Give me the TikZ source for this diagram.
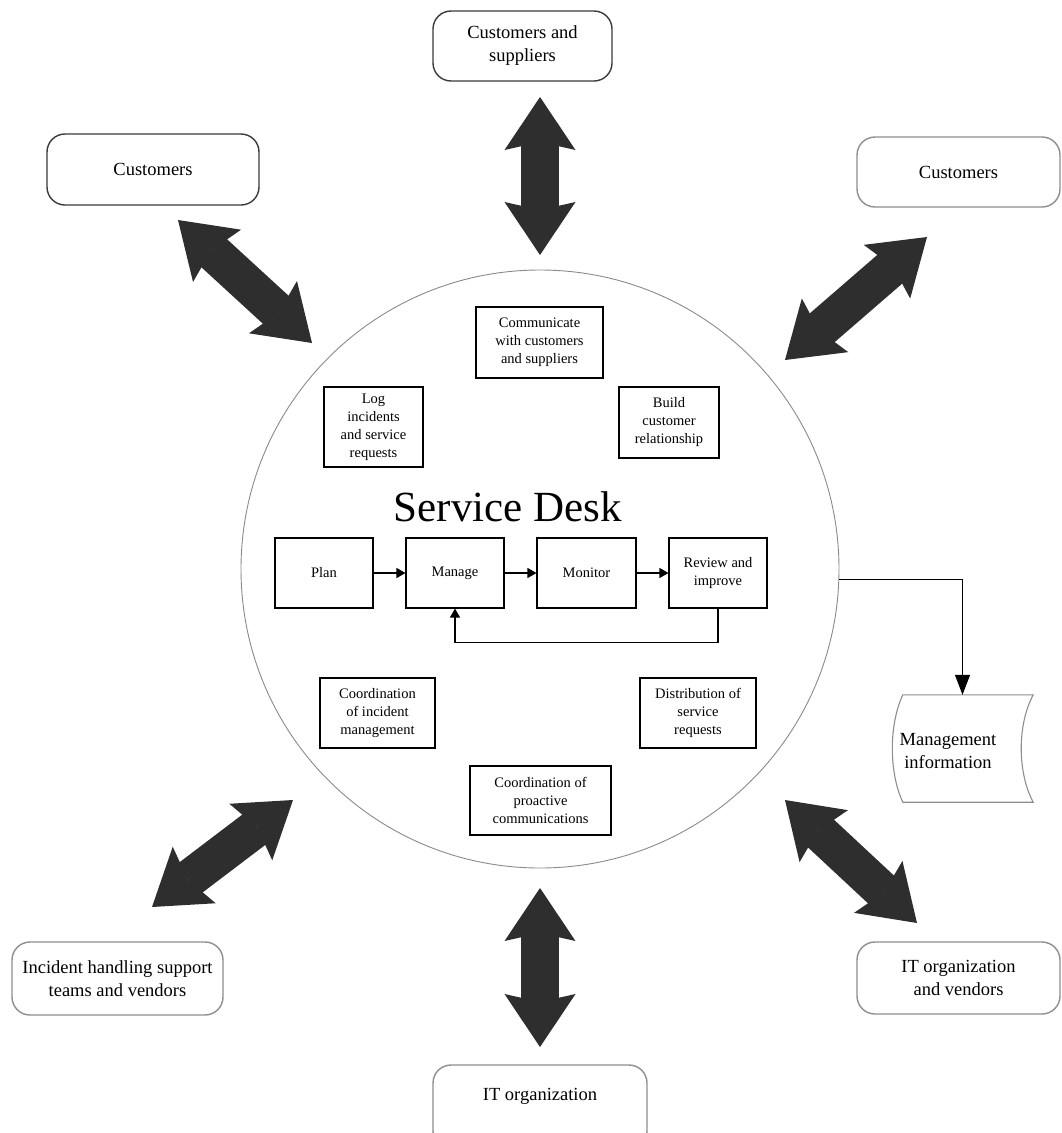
\documentclass[tikz,border=0pt]{standalone}
\usepackage{fontspec}
\setmainfont{Liberation Serif}
\usetikzlibrary{arrows.meta,calc}
\definecolor{arrowfill}{HTML}{2E2E2E}
\definecolor{ringgray}{HTML}{8A8A8A}
\definecolor{darkedge}{HTML}{3A3A3A}
\definecolor{lightedge}{HTML}{8E8E8E}

\begin{document}
\begin{tikzpicture}[x=1pt,y=-1pt,
  party/.style={draw=#1, line width=1.4pt, rounded corners=18pt, align=center,
    font=\fontsize{18.5}{23}\selectfont, inner sep=0pt},
  task/.style={draw=black, line width=1.1pt, align=center,
    font=\fontsize{14.5}{18}\selectfont, inner sep=0pt},
  flow/.style={draw=black, line width=1.2pt, -{Triangle[length=9pt,width=10pt]}},
  bigflow/.style={draw=arrowfill, line width=38pt,
    {Stealth[length=53pt,width=71pt,inset=8pt,line width=0pt,fill=arrowfill]}-{Stealth[length=53pt,width=71pt,inset=8pt,line width=0pt,fill=arrowfill]}},
  tape/.style={draw=lightedge, line width=1.1pt}]

\useasboundingbox (0,0) rectangle (1061,1133);
\clip (0,0) rectangle (1061,1133);

% the service desk ring
\node[circle, draw=ringgray, line width=0.9pt, minimum size=598pt, inner sep=0pt] (desk) at (540,569) {};

% outer parties
\node[party=darkedge, minimum width=179pt, minimum height=70pt] (cs) at (522.5,46) {Customers and\\suppliers};
\node[party=darkedge, minimum width=212pt, minimum height=71pt] (cl) at (153,169.5) {Customers};
\node[party=lightedge, minimum width=203pt, minimum height=70pt] (cr) at (958.5,172) {Customers};
\node[party=lightedge, minimum width=211pt, minimum height=73pt] (ih) at (117.5,978.5) {Incident handling support\\teams and vendors};
\node[party=lightedge, minimum width=203pt, minimum height=72pt] (iv) at (958.5,978) {IT organization\\and vendors};
\node[party=lightedge, minimum width=214pt, minimum height=84pt, text depth=0pt] (it) at (540,1107) {};
\node[font=\fontsize{18.5}{23}\selectfont] (ittext) at (540,1096) {IT organization};

% activities inside the ring
\node[task, minimum width=99pt, minimum height=80pt] (log) at (373.5,427) {Log\\incidents\\and service\\requests};
\node[task, minimum width=127pt, minimum height=71pt] (comm) at (539.5,342.5) {Communicate\\with customers\\and suppliers};
\node[task, minimum width=100pt, minimum height=71pt] (build) at (669,422.5) {Build\\customer\\relationship};
\node[task, minimum width=115pt, minimum height=70pt] (cim) at (377.5,713) {Coordination\\of incident\\management};
\node[task, minimum width=116pt, minimum height=70pt] (dsr) at (698,713) {Distribution of\\service\\requests};
\node[task, minimum width=141pt, minimum height=69pt] (cpc) at (540.5,800.5) {Coordination of\\proactive\\communications};

\node[anchor=base, font=\fontsize{43}{43}\selectfont] (title) at (508,521) {Service Desk};

% plan-manage-monitor-review cycle
\node[task, minimum width=98pt, minimum height=70pt] (plan) at (324,573) {Plan};
\node[task, minimum width=98pt, minimum height=70pt] (manage) at (455,573) {Manage};
\node[task, minimum width=99pt, minimum height=70pt] (monitor) at (586.5,573) {Monitor};
\node[task, minimum width=98pt, minimum height=70pt] (review) at (718,573) {Review and\\improve};

\draw[flow] (plan) -- (manage);
\draw[flow] (manage) -- (monitor);
\draw[flow] (monitor) -- (review);
\draw[flow] (review.south) -- ++(0,34) -| (manage.south);

% management information output
\node[minimum width=141pt, minimum height=107pt, inner sep=0pt] (mi) at (962.5,748.5) {};
\draw[tape] ($(mi.north west)+(11,0)$) -- (mi.north east)
  .. controls ($(mi.north east)+(-16,30)$) and ($(mi.south east)+(-16,-30)$) .. (mi.south east)
  -- ($(mi.south west)+(11,0)$)
  .. controls ($(mi.south west)+(-3,-30)$) and ($(mi.north west)+(-3,30)$) .. cycle;
\node[font=\fontsize{18.5}{23}\selectfont, align=center] (mitext) at (948,751) {Management\\information};
\draw[draw=black, line width=1.2pt, -{Triangle[length=20pt,width=15pt]}] (desk.-2.5) -| (mi.north);

% two-way exchanges with the parties
\coordinate (aT1) at (540,97);   \coordinate (aT2) at (540,255);
\coordinate (aTL1) at (178,220); \coordinate (aTL2) at (312,343);
\coordinate (aTR1) at (927,237); \coordinate (aTR2) at (785,360);
\coordinate (aBL1) at (293,800); \coordinate (aBL2) at (152,907);
\coordinate (aBR1) at (785,800); \coordinate (aBR2) at (917,923);
\coordinate (aB1) at (540,888);  \coordinate (aB2) at (540,1047);

\draw[bigflow] (aT1) -- (aT2);
\draw[bigflow] (aTL1) -- (aTL2);
\draw[bigflow] (aTR1) -- (aTR2);
\draw[bigflow] (aBL1) -- (aBL2);
\draw[bigflow] (aBR1) -- (aBR2);
\draw[bigflow] (aB1) -- (aB2);
\end{tikzpicture}
\end{document}
